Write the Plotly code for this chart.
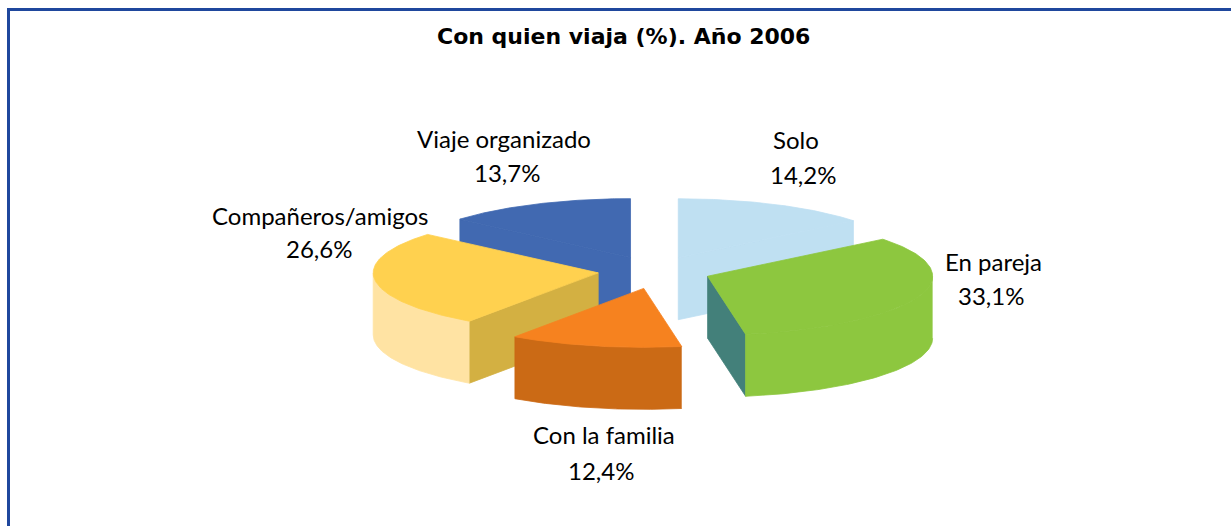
import numpy as np
import plotly.graph_objects as go

# Data, clockwise from 12 o'clock
categories = ["Solo", "En pareja", "Con la familia", "Compañeros/amigos", "Viaje organizado"]
values = [14.2, 33.1, 12.4, 26.6, 13.7]
value_labels = ["14,2%", "33,1%", "12,4%", "26,6%", "13,7%"]

# Face colours per slice
top_colors = ["#BFE0F2", "#8DC73F", "#F6821F", "#FFD14F", "#4169B1"]
side_colors = ["#BFE0F2", "#8DC73F", "#CB6A15", "#FFE3A3", "#4169B1"]
cut_colors = ["#BFE0F2", "#43807A", "#CB6A15", "#D3B042", "#4169B1"]

# Projection settings (pie radius = 1 unit)
W, H = 1231, 526
PX = 225.0            # pixels per unit
CX, CY = 654.0, 271.0 # pie centre, pixels
TILT = 0.262
DEPTH = 62.0 / PX
EXPLODE = 0.25
DRAW_ORDER = [0, 4, 3, 1, 2]
# Small per-slice placement correction, pixels (right, down)
nudge = [(0, 0), (1, 0), (2, 3), (0, 0), (0, 0)]

# Label anchors in pixels: (name x, name y, value x, value y)
label_pos = [
    (796, 139, 803, 174),
    (993, 261, 991, 295),
    (604, 434, 601, 470),
    (320, 215, 319, 248),
    (504, 138, 507, 172),
]

FONT = "Lato"
LABEL_SIZE = 24
TITLE_FONT = "DejaVu Sans"
TITLE_SIZE = 22

total = sum(values)
ends = np.cumsum(values) / total * 360.0
starts = np.concatenate([[0.0], ends[:-1]])


def project(a_deg, r=1.0):
    a = np.radians(a_deg)
    return r * np.sin(a), r * np.cos(a) * TILT


def polygon(x, y, color, name):
    return go.Scatter(x=x, y=y, mode="lines", fill="toself", fillcolor=color,
                      line=dict(width=0.8, color=color), hoverinfo="text", text=name,
                      showlegend=False)


fig = go.Figure()
for i in DRAW_ORDER:
    s, e = starts[i], ends[i]
    mid = (s + e) / 2
    ox, oy = project(mid, EXPLODE)
    ox += nudge[i][0] / PX
    oy -= nudge[i][1] / PX
    name = f"{categories[i]} {value_labels[i]}"

    # Radial cut faces that face the viewer (the viewer sits at 180 degrees)
    for edge, normal in ((s, s - 90), (e, e + 90)):
        if np.cos(np.radians(normal)) < -1e-9:
            ex, ey = project(edge)
            fig.add_trace(polygon(
                [ox, ox + ex, ox + ex, ox, ox],
                [oy, oy + ey, oy + ey - DEPTH, oy - DEPTH, oy],
                cut_colors[i], name))

    # Outer wall, only over the front half of the pie
    lo, hi = max(s, 90.0), min(e, 270.0)
    if hi > lo:
        arc = np.linspace(lo, hi, 80)
        ax, ay = project(arc)
        fig.add_trace(polygon(
            np.concatenate([ox + ax, (ox + ax)[::-1]]),
            np.concatenate([oy + ay, (oy + ay - DEPTH)[::-1]]),
            side_colors[i], name))

    # Top surface
    arc = np.linspace(s, e, 120)
    ax, ay = project(arc)
    fig.add_trace(polygon(
        np.concatenate([[ox], ox + ax, [ox]]),
        np.concatenate([[oy], oy + ay, [oy]]),
        top_colors[i], name))

annotations = [dict(xref="paper", yref="paper", x=623.5 / W, y=1 - 37 / H,
                    text="<b>Con quien viaja (%). Año 2006</b>", showarrow=False,
                    font=dict(family=TITLE_FONT, size=TITLE_SIZE, color="#000000"),
                    xanchor="center", yanchor="middle")]
for cat, lab, (nx, ny, vx, vy) in zip(categories, value_labels, label_pos):
    for txt, px, py in ((cat, nx, ny), (lab, vx, vy)):
        annotations.append(dict(xref="paper", yref="paper", x=px / W, y=1 - py / H,
                                text=txt, showarrow=False,
                                font=dict(family=FONT, size=LABEL_SIZE, color="#000000"),
                                xanchor="center", yanchor="middle"))

frame = "#1F479D"
shapes = [
    dict(type="line", xref="paper", yref="paper", x0=8.5 / W, x1=1, y0=1 - 9.5 / H, y1=1 - 9.5 / H,
         line=dict(color=frame, width=3)),
    dict(type="line", xref="paper", yref="paper", x0=8.5 / W, x1=8.5 / W, y0=0, y1=1 - 8 / H,
         line=dict(color=frame, width=3)),
]

fig.update_layout(
    width=W, height=H, margin=dict(l=0, r=0, t=0, b=0),
    paper_bgcolor="#FFFFFF", plot_bgcolor="#FFFFFF", showlegend=False,
    xaxis=dict(visible=False, range=[-CX / PX, (W - CX) / PX], fixedrange=True),
    yaxis=dict(visible=False, range=[(CY - H) / PX, CY / PX], fixedrange=True),
    annotations=annotations, shapes=shapes,
)
fig.write_html("out.html", config={"displayModeBar": False},
               post_script="document.body.style.margin='0';document.body.style.overflow='hidden';")
